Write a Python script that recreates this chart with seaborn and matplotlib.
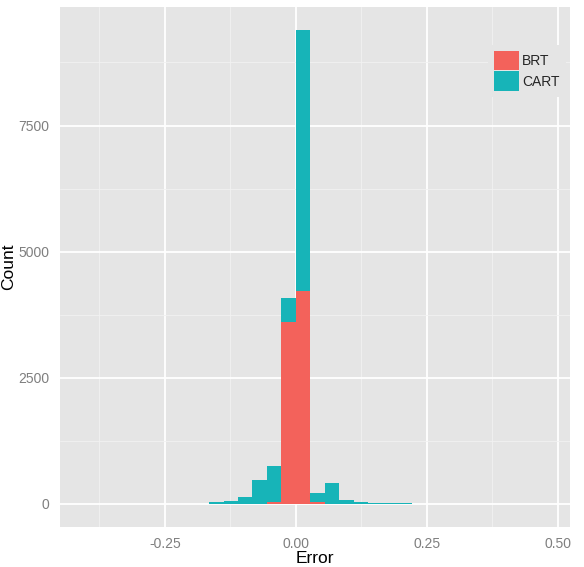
import numpy as np
import pandas as pd
import matplotlib
matplotlib.use("Agg")
import matplotlib.pyplot as plt
from matplotlib.patches import Patch
import seaborn as sns

# histogram of prediction errors, counts
binwidth = 0.0276
bin_index = np.arange(-15, 18)  # bin k covers [k*bw, (k+1)*bw)
brt_counts = [0, 0, 0, 0, 0, 0, 0, 0, 0, 0, 0, 0, 0, 40, 3610,
              4229, 35, 0, 0, 0, 0, 0, 0, 0, 0, 0, 0, 0, 0, 0, 0, 0, 0]
cart_counts = [1, 0, 0, 0, 0, 0, 0, 2, 3, 32, 65, 130, 480, 700, 464,
               5164, 183, 416, 73, 33, 20, 8, 15, 0, 2, 2, 2, 1, 0, 2, 1, 0, 2]
models = ["BRT", "CART"]
colors = {"BRT": "#F3625B", "CART": "#17B4B8"}

centers = (bin_index + 0.5) * binwidth
df = pd.concat([
    pd.DataFrame({"Error": centers, "Count": brt_counts, "Model": "BRT"}),
    pd.DataFrame({"Error": centers, "Count": cart_counts, "Model": "CART"}),
], ignore_index=True)
lo = bin_index[0] * binwidth
hi = (bin_index[-1] + 1) * binwidth

sns.set_style("dark", {"axes.facecolor": "#E5E5E5"})
plt.rcParams["font.family"] = ["Liberation Sans", "DejaVu Sans"]

fig = plt.figure(figsize=(5.84, 5.67), dpi=100)
ax = fig.add_axes([60 / 584, 1 - 527 / 567, 510 / 584, 520.5 / 567])

# seaborn stacks the last hue level at the bottom
sns.histplot(data=df, x="Error", weights="Count", hue="Model",
             hue_order=["CART", "BRT"], multiple="stack",
             binwidth=binwidth, binrange=(lo, hi),
             palette=colors, alpha=1, linewidth=0, legend=False, ax=ax)

ax.set_xlim(-0.45, 0.523)
ax.set_ylim(-460, 9860)
ax.set_xticks([-0.25, 0.0, 0.25, 0.5])
ax.set_xticklabels(["-0.25", "0.00", "0.25", "0.50"])
ax.set_yticks([0, 2500, 5000, 7500])
ax.set_xticks([-0.375, -0.125, 0.125, 0.375], minor=True)
ax.set_yticks([1250, 3750, 6250, 8750], minor=True)

ax.set_axisbelow(True)
ax.grid(True, which="major", color="white", linewidth=1.3)
ax.grid(True, which="minor", color="#F2F2F2", linewidth=0.6)
for s in ax.spines.values():
    s.set_visible(False)
ax.tick_params(which="major", length=5, width=1, color="#7F7F7F",
               labelcolor="#7F7F7F", labelsize=10, pad=2.5)
ax.tick_params(which="minor", length=0)

ax.set_xlabel("Error", fontsize=12.5, color="black")
ax.set_ylabel("Count", fontsize=12.5, color="black")
ax.xaxis.set_label_coords(0.5, -0.046)
ax.yaxis.set_label_coords(-0.086, 0.5)

handles = [Patch(facecolor=colors[m], edgecolor="none", label=m) for m in models]
leg = ax.legend(handles=handles, loc="upper right", bbox_to_anchor=(0.992, 0.926),
                borderaxespad=0, frameon=True, fontsize=10, handlelength=1.75,
                handleheight=1.75, labelspacing=0.07, handletextpad=0.25,
                borderpad=0.45)
leg.get_frame().set_facecolor("#E5E5E5")
leg.get_frame().set_edgecolor("none")
leg.get_frame().set_alpha(1)

fig.savefig("out.png", dpi=100)
